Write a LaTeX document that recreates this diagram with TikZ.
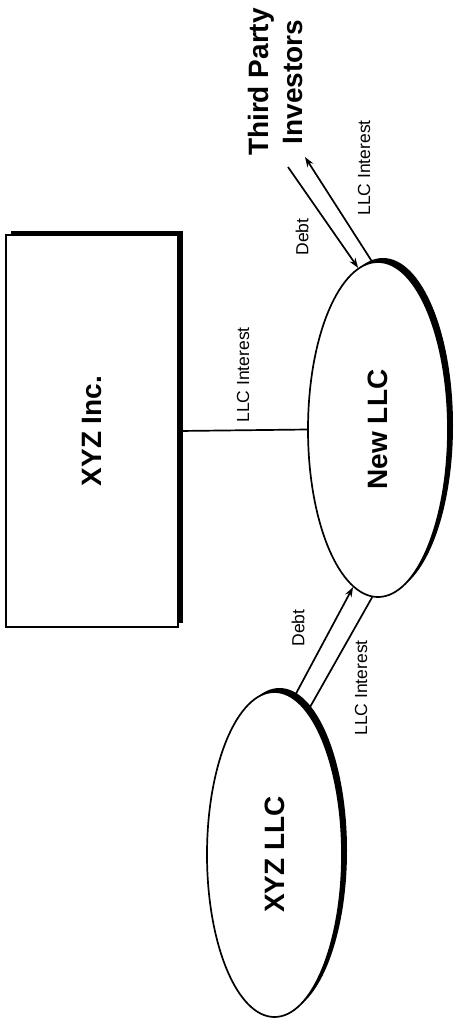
\documentclass[tikz,border=0pt]{standalone}
\usepackage{fontspec}
\setmainfont{Liberation Sans}
\usetikzlibrary{shapes.geometric,shadows,arrows.meta}
\begin{document}
\begin{tikzpicture}[x=1pt,y=-1pt,
  ent/.style={draw=black, line width=1.7pt, fill=white, inner sep=0pt,
    font=\bfseries\fontsize{28}{34}\selectfont},
  oval/.style={ent, ellipse},
  shad/.style={drop shadow={shadow xshift=5pt, shadow yshift=4pt, fill=black, opacity=1}},
  lbl/.style={rotate=90, inner sep=0pt, font=\fontsize{17.5}{20}\selectfont},
  conn/.style={line width=1.7pt},
  arr/.style={conn, -{Stealth[length=10pt,width=7pt]}}]
\useasboundingbox (0,0) rectangle (455,1021);

\node[ent, rectangle, minimum width=172pt, minimum height=392pt, shad] (inc) at (92,431) {\rotatebox{90}{XYZ Inc.}};
\node[oval, minimum width=140pt, minimum height=335pt, shad] (new) at (378,429.5) {\rotatebox{90}{New LLC}};
\node[oval, minimum width=135pt, minimum height=325pt, shad] (xyz) at (274.5,854.5) {\rotatebox{90}{XYZ LLC}};
\node[rotate=90, align=center, inner sep=0pt, font=\bfseries\fontsize{28}{34}\selectfont] (tpi) at (275,82) {Third Party\\Investors};

\coordinate (d1) at (288,167);
\coordinate (d2) at (305,157);

\draw[conn] (inc.east) -- (new.west);
\draw[arr] (xyz.83.7) -- (new.261.8);
\draw[conn] (xyz.77.3) -- (new.268);
\draw[arr] (d1) -- (new.97.8);
\draw[arr] (new.92) -- (d2);

\node[lbl] (lmid) at (243,375) {LLC Interest};
\node[lbl] (ltopd) at (302,237) {Debt};
\node[lbl] (ltopi) at (364,168) {LLC Interest};
\node[lbl] (lbotd) at (298,628) {Debt};
\node[lbl] (lboti) at (361,688) {LLC Interest};
\end{tikzpicture}
\end{document}
